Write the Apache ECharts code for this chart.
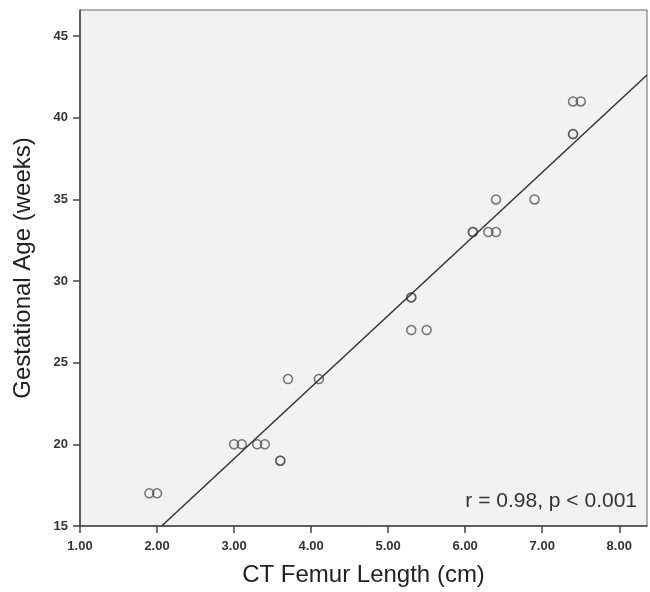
<!DOCTYPE html>
<html>
<head>
<meta charset="utf-8">
<script src="https://cdn.jsdelivr.net/npm/echarts@6/dist/echarts.min.js"></script>
<style>
  html, body { margin: 0; padding: 0; background: #fff; }
  #chart { width: 650px; height: 592px; }
</style>
</head>
<body>
<div id="chart"></div>
<script>
// CT femur length (cm) vs gestational age (weeks); duplicates drawn twice
const femurLength = [1.9, 2.0, 3.0, 3.1, 3.3, 3.4, 3.6, 3.6, 3.7, 4.1, 5.3, 5.3, 5.3, 5.5, 6.1, 6.1, 6.3, 6.4, 6.4, 6.9, 7.4, 7.4, 7.4, 7.5];
const gestAge     = [17,  17,  20,  20,  20,  20,  19,  19,  24,  24,  29,  29,  27,  27,  33,  33,  33,  33,  35,  35,  39,  39,  41,  41];

// fit line
const fitIntercept = 5.97;
const fitSlope = 4.384;
const fitRange = [2.06, 8.36];

const xTicks = [1, 2, 3, 4, 5, 6, 7, 8];
const yTicks = [15, 20, 25, 30, 35, 40, 45];

const points = femurLength.map((x, i) => [x, gestAge[i]]);
const fitLine = fitRange.map(x => [x, fitIntercept + fitSlope * x]);

const chart = echarts.init(document.getElementById('chart'));
const font = '"Liberation Sans", Arial, sans-serif';

chart.setOption({
  animation: false,
  grid: {
    left: 80, top: 10, right: 3, bottom: 64,
    show: true,
    backgroundColor: '#f2f2f2',
    borderColor: '#666',
    borderWidth: 1
  },
  xAxis: {
    type: 'value',
    min: 1, max: 8.36,
    interval: 1,
    name: 'CT Femur Length (cm)',
    nameLocation: 'middle',
    nameGap: 37,
    nameTextStyle: { fontFamily: font, fontSize: 24, color: '#222' },
    axisLine: { lineStyle: { color: '#444', width: 1.5 } },
    axisTick: { show: true, length: 7, customValues: xTicks, lineStyle: { color: '#444', width: 1.5 } },
    axisLabel: {
      customValues: xTicks,
      formatter: v => v.toFixed(2),
      fontFamily: font, fontSize: 13, fontWeight: 'bold', color: '#333', margin: 14
    },
    splitLine: { show: false }
  },
  yAxis: {
    type: 'value',
    min: 15, max: 46.6,
    interval: 5,
    name: 'Gestational Age (weeks)',
    nameLocation: 'middle',
    nameGap: 45,
    nameTextStyle: { fontFamily: font, fontSize: 24, color: '#222' },
    axisLine: { show: true, lineStyle: { color: '#444', width: 1.5 } },
    axisTick: { show: true, length: 7, customValues: yTicks, lineStyle: { color: '#444', width: 1.5 } },
    axisLabel: {
      customValues: yTicks,
      fontFamily: font, fontSize: 13, fontWeight: 'bold', color: '#333', margin: 12
    },
    splitLine: { show: false }
  },
  series: [
    {
      type: 'line',
      data: fitLine,
      symbol: 'none',
      lineStyle: { color: '#333', width: 1.5 },
      silent: true
    },
    {
      type: 'scatter',
      data: points,
      symbol: 'circle',
      symbolSize: 9,
      itemStyle: { color: 'rgba(0,0,0,0)', borderColor: '#555', borderWidth: 1.5 }
    }
  ],
  graphic: [{
    type: 'text',
    right: 13,
    top: 491,
    style: {
      text: 'r = 0.98, p < 0.001',
      font: '21px ' + font,
      fill: '#333'
    }
  }]
});
</script>
</body>
</html>
